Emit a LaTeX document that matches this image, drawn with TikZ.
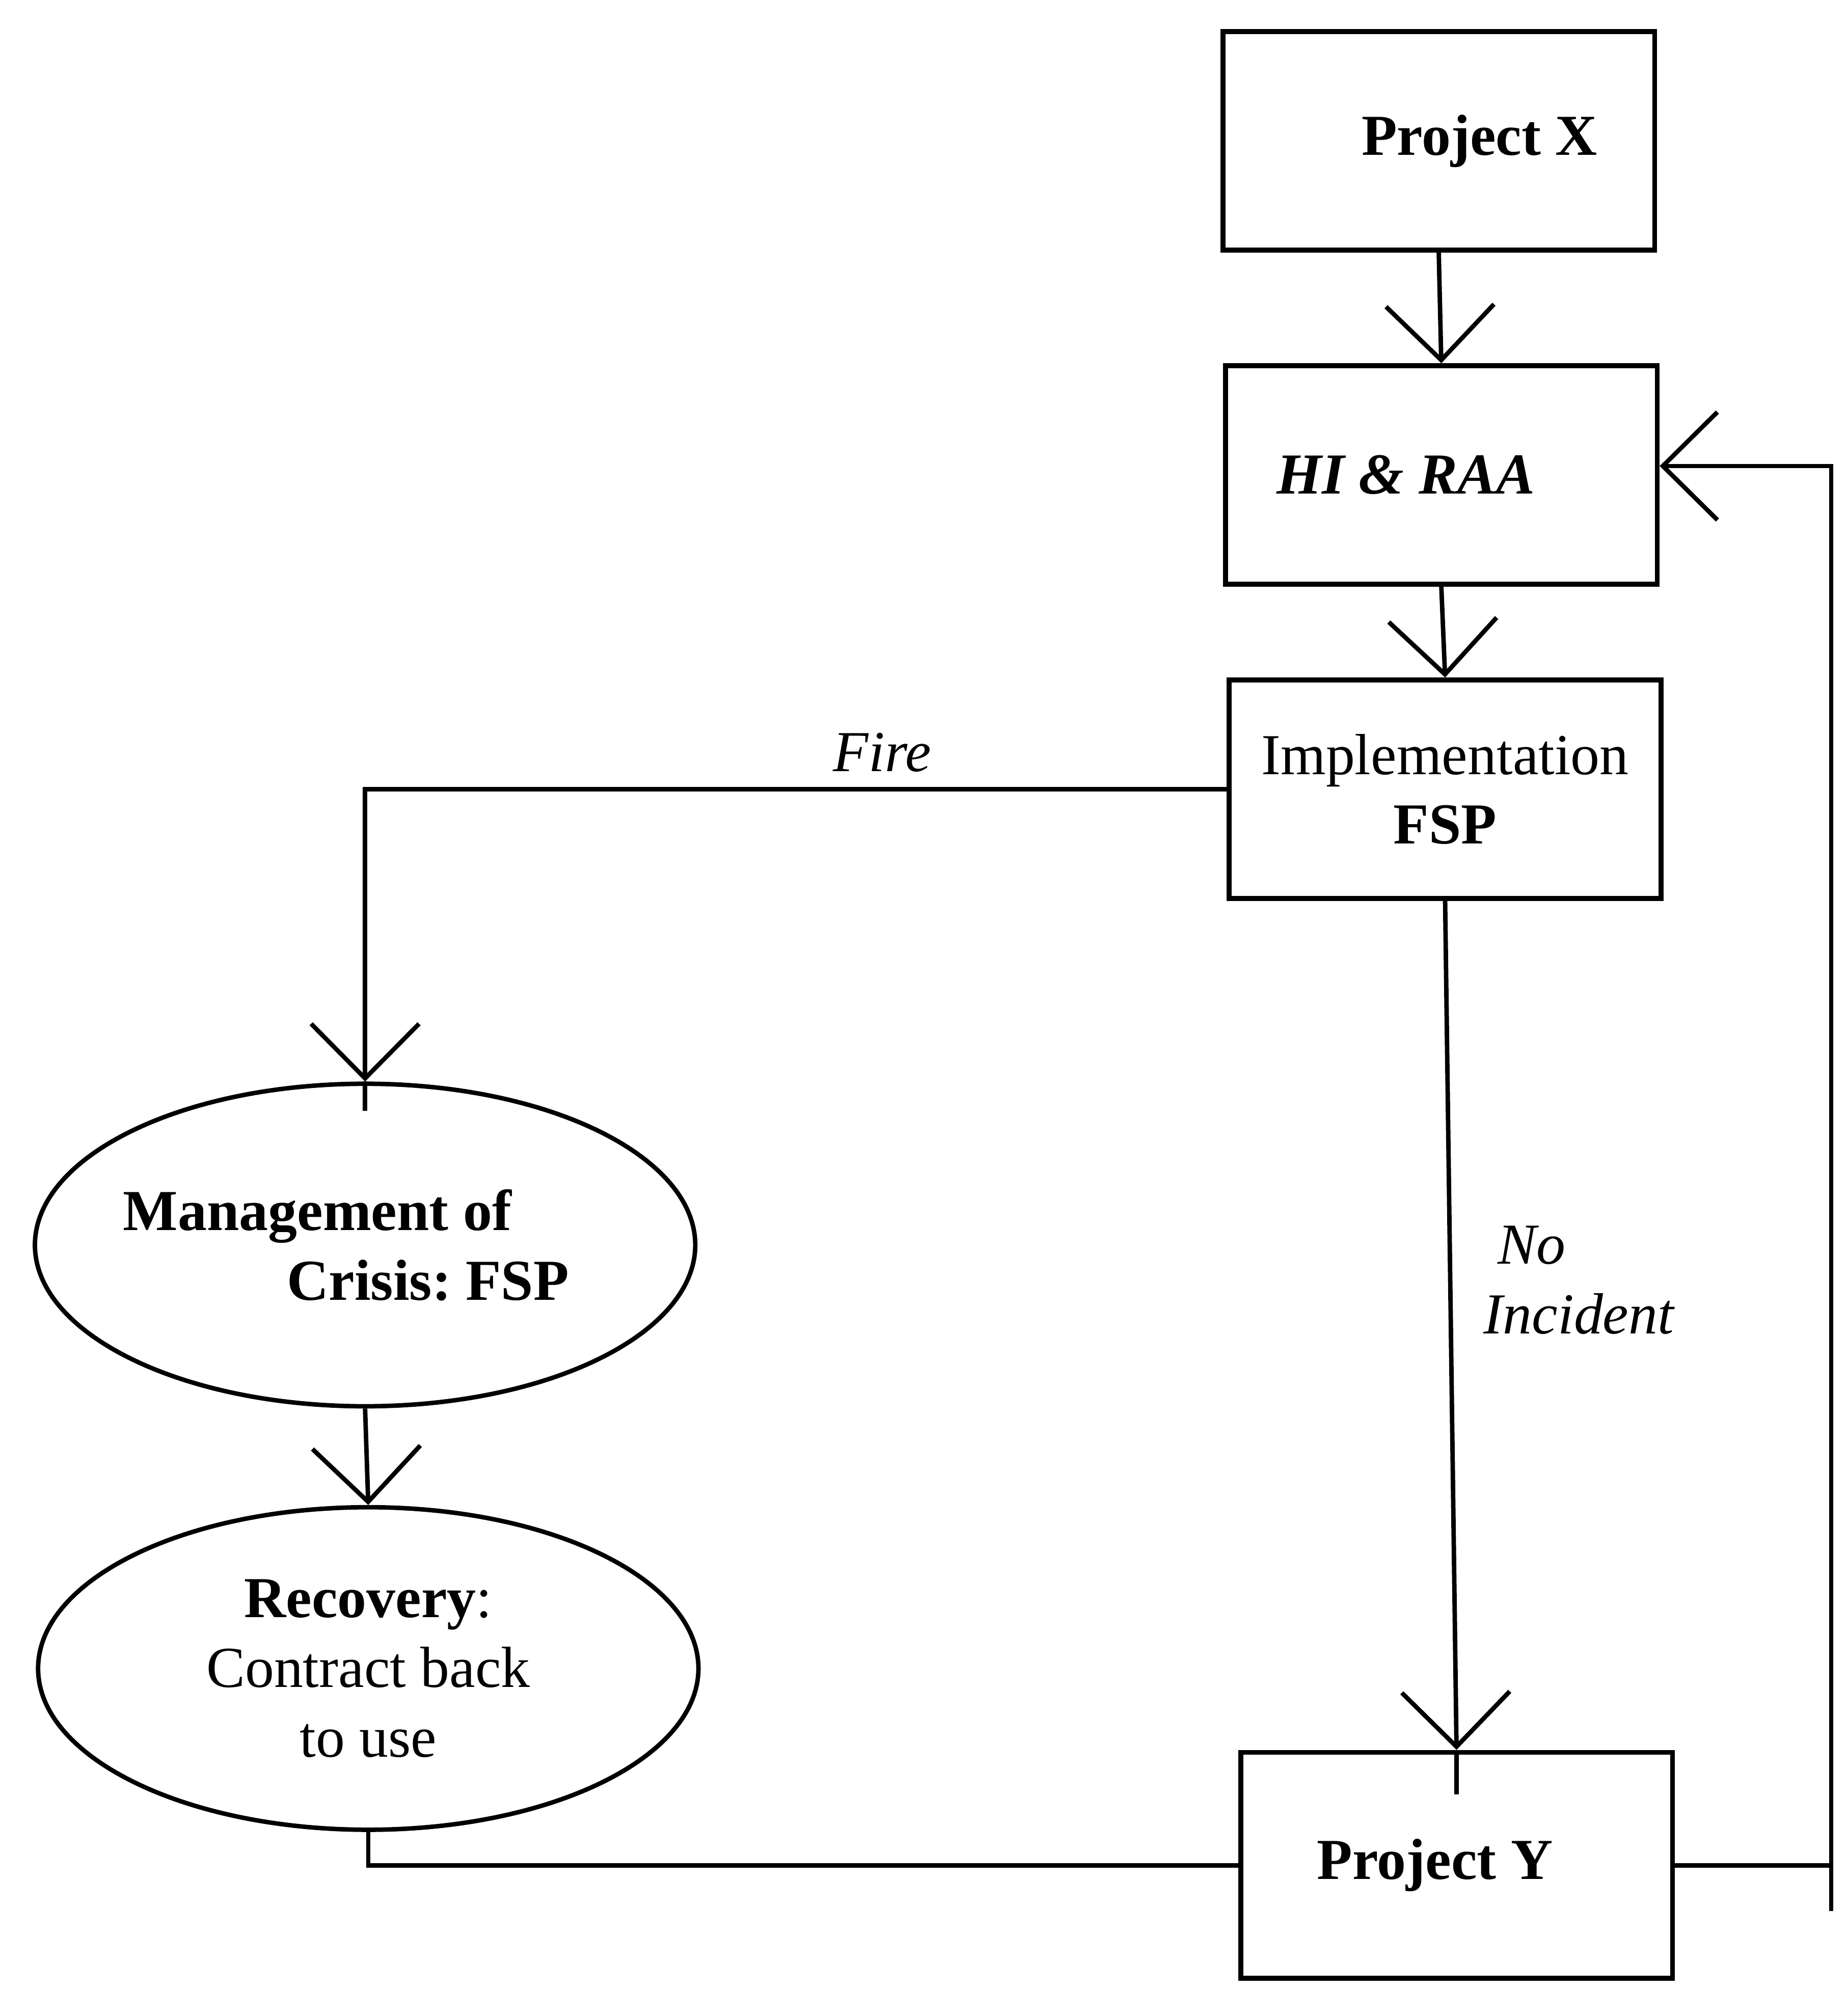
\documentclass[tikz,border=0pt]{standalone}
\usepackage{fontspec}
\setmainfont{Liberation Serif}
\usetikzlibrary{arrows.meta, positioning, shapes.geometric}

\tikzset{
  stage/.style={draw, line width=1.1pt, minimum width=3.4cm, minimum height=1.72cm,
    inner sep=0pt, align=center, font=\fontsize{13}{15.6}\selectfont},
  phase/.style={draw, ellipse, line width=1pt, minimum width=5.2cm, minimum height=2.54cm,
    inner sep=0pt, font=\fontsize{13}{15.6}\selectfont},
  flow/.style={line width=1pt, -{Straight Barb[length=4.3mm,width=8.5mm]}},
  link/.style={line width=1pt},
  lbl/.style={font=\fontsize{13}{15.6}\selectfont\itshape}
}

\begin{document}
\begin{tikzpicture}
  \useasboundingbox (0,0) rectangle (14.55,-15.68);

  % right-hand column
  \node[stage] (px) at (11.33,-1.11) {\bfseries\hspace*{0.64cm}Project X};
  \node[stage] (hiraa) at (11.35,-3.74) {\bfseries\itshape HI \& RAA\hspace*{0.56cm}};
  \node[stage] (impl) at (11.38,-6.215) {Implementation\\\textbf{FSP}};
  \node[stage, minimum height=1.78cm] (py) at (11.47,-14.69) {\bfseries Project Y\hspace*{0.34cm}};

  % left-hand column
  \node[phase, align=left, inner xsep=-0.2cm, font=\fontsize{13}{15.6}\selectfont\bfseries]
    (crisis) at (2.875,-9.805)
    {Management of\\\hspace*{1.29cm}Crisis:\ FSP\hspace*{0.3cm}};
  \node[phase, align=center] (recov) at (2.9,-13.14)
    {\textbf{Recovery}:\\Contract back\\to use};

  \coordinate (fbk) at (14.42,-15.05);

  % connectors
  \draw[flow] (px.south) -- (hiraa.north);
  \draw[flow] (hiraa.south) -- (impl.north);
  \draw[flow] (impl.west) -| node[lbl, above, pos=0.2] (fire) {Fire} (crisis.north);
  \draw[link] (crisis.north) -- ++(0,-0.23);
  \draw[flow] (crisis.south) -- (recov.north);
  \draw[flow] (impl.south) -- (py.north);
  \draw[link] (py.north) -- ++(0,-0.35);
  \node[lbl, anchor=west, align=left] (noinc) at (11.56,-10.08) {\hspace*{0.11cm}No\\Incident};
  \draw[link] (recov.south) |- (py.west);
  \draw[link] (py.east) -- (py.east -| fbk);
  \draw[flow] (fbk) |- ([yshift=0.07cm]hiraa.east);
\end{tikzpicture}
\end{document}
